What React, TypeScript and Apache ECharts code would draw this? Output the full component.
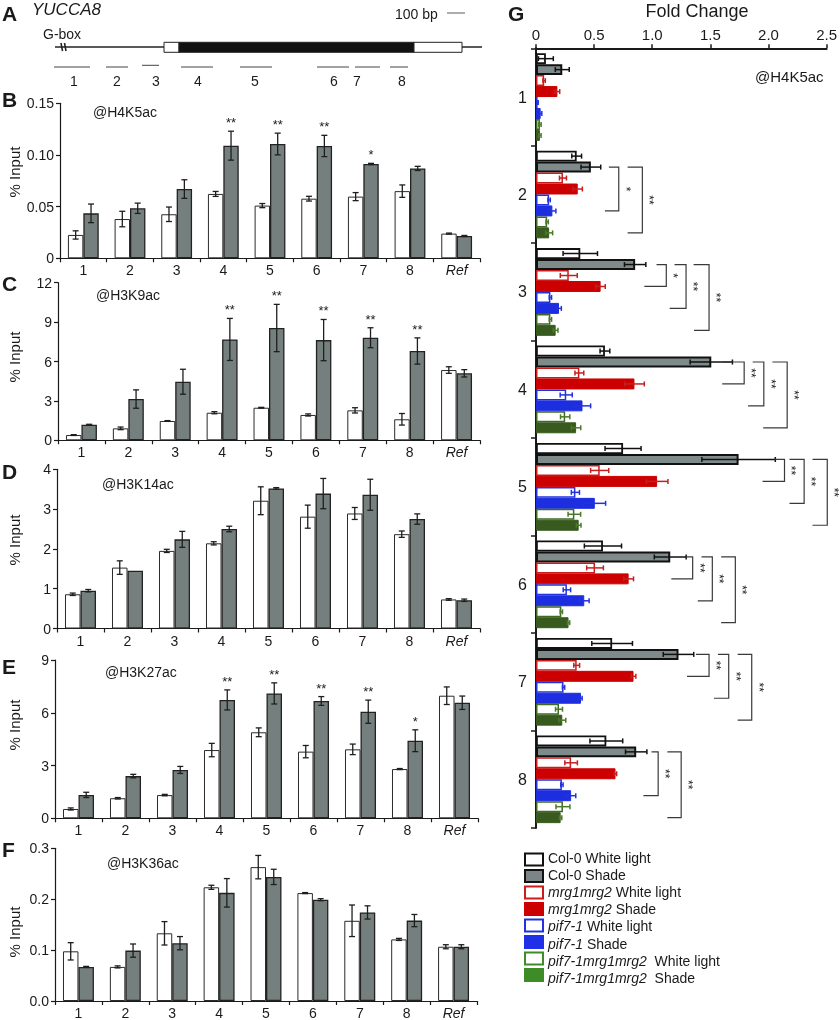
import React, { useEffect, useRef } from "react";
import * as echarts from "echarts";

const FONT = "'Liberation Sans', Arial, Helvetica, sans-serif";
const INK = "#1a1a1a";

// ---------- Panels B-F : % Input ----------
const sites = ["1", "2", "3", "4", "5", "6", "7", "8", "Ref"];

const h4k5WL = [0.0226, 0.038, 0.0426, 0.0623, 0.051, 0.0577, 0.0597, 0.065, 0.0239];
const h4k5WLErr = [0.004, 0.0075, 0.007, 0.0024, 0.002, 0.0023, 0.0039, 0.006, 0.0005];
const h4k5Sh = [0.0435, 0.0484, 0.067, 0.109, 0.1106, 0.1087, 0.0913, 0.087, 0.0216];
const h4k5ShErr = [0.009, 0.005, 0.009, 0.014, 0.0105, 0.0103, 0.0006, 0.002, 0.0005];
const h4k5Stars = ["", "", "", "**", "**", "**", "*", "", ""];

const h3k9WL = [0.4, 0.91, 1.47, 2.1, 2.48, 1.93, 2.28, 1.6, 5.35];
const h3k9WLErr = [0.03, 0.1, 0.03, 0.08, 0.03, 0.08, 0.2, 0.44, 0.25];
const h3k9Sh = [1.19, 3.14, 4.46, 7.68, 8.55, 7.63, 7.81, 6.8, 5.1];
const h3k9ShErr = [0.03, 0.7, 0.95, 1.6, 1.8, 1.57, 0.76, 1.0, 0.28];
const h3k9Stars = ["", "", "", "**", "**", "**", "**", "**", ""];

const h3k14WL = [0.86, 1.53, 1.95, 2.14, 3.21, 2.81, 2.89, 2.37, 0.73];
const h3k14WLErr = [0.03, 0.17, 0.04, 0.04, 0.35, 0.29, 0.15, 0.08, 0.02];
const h3k14Sh = [0.95, 1.45, 2.24, 2.5, 3.52, 3.39, 3.36, 2.75, 0.71];
const h3k14ShErr = [0.03, 0, 0.2, 0.07, 0.02, 0.38, 0.39, 0.13, 0.03];
const h3k14Stars = ["", "", "", "", "", "", "", "", ""];

const h3k27WL = [0.53, 1.14, 1.32, 3.88, 4.89, 3.79, 3.92, 2.8, 6.97];
const h3k27WLErr = [0.06, 0.04, 0.04, 0.38, 0.25, 0.35, 0.3, 0.03, 0.5];
const h3k27Sh = [1.33, 2.4, 2.75, 6.73, 7.1, 6.67, 6.06, 4.41, 6.57];
const h3k27ShErr = [0.15, 0.1, 0.2, 0.57, 0.6, 0.25, 0.66, 0.62, 0.38];
const h3k27Stars = ["", "", "", "**", "**", "**", "**", "*", ""];

const h3k36WL = [0.0976, 0.067, 0.133, 0.2234, 0.263, 0.212, 0.1576, 0.121, 0.1066];
const h3k36WLErr = [0.017, 0.002, 0.023, 0.004, 0.023, 0.001, 0.031, 0.002, 0.004];
const h3k36Sh = [0.067, 0.099, 0.1136, 0.2125, 0.2438, 0.199, 0.174, 0.158, 0.1066];
const h3k36ShErr = [0.001, 0.013, 0.013, 0.028, 0.015, 0.002, 0.013, 0.012, 0.004];
const h3k36Stars = ["", "", "", "", "", "", "", "", ""];

// ---------- Panel G : Fold change ----------
const foldSites = ["1", "2", "3", "4", "5", "6", "7", "8"];
const col0WL = [0.085, 0.35, 0.381, 0.593, 0.749, 0.576, 0.655, 0.605];
const col0WLErr = [0.064, 0.042, 0.148, 0.042, 0.155, 0.16, 0.175, 0.141];
const col0Sh = [0.226, 0.472, 0.853, 1.508, 1.743, 1.155, 1.226, 0.862];
const col0ShErr = [0.06, 0.085, 0.092, 0.182, 0.316, 0.137, 0.131, 0.092];
const mrgWL = [0.07, 0.232, 0.282, 0.373, 0.548, 0.508, 0.35, 0.302];
const mrgWLErr = [0.01, 0.03, 0.073, 0.038, 0.078, 0.072, 0.025, 0.054];
const mrgSh = [0.184, 0.359, 0.556, 0.847, 1.042, 0.797, 0.839, 0.684];
const mrgShErr = [0.02, 0.04, 0.04, 0.085, 0.093, 0.042, 0.02, 0.01];
const pifWL = [0.014, 0.113, 0.124, 0.26, 0.339, 0.266, 0.237, 0.223];
const pifWLErr = [0.005, 0.01, 0.01, 0.052, 0.035, 0.032, 0.01, 0.01];
const pifSh = [0.04, 0.141, 0.198, 0.4, 0.506, 0.415, 0.387, 0.302];
const pifShErr = [0.01, 0.03, 0.02, 0.07, 0.093, 0.042, 0.01, 0.04];
const pmWL = [0.034, 0.096, 0.124, 0.251, 0.33, 0.218, 0.198, 0.232];
const pmWLErr = [0.01, 0.01, 0.01, 0.04, 0.054, 0.01, 0.03, 0.06];
const pmSh = [0.034, 0.113, 0.169, 0.345, 0.367, 0.28, 0.226, 0.212];
const pmShErr = [0.01, 0.03, 0.02, 0.04, 0.02, 0.01, 0.03, 0.01];

// significance brackets (from Col-0 Shade bar to target bar)
const bracketSite = [1, 1, 2, 2, 2, 3, 3, 3, 4, 4, 4, 5, 5, 5, 6, 6, 6, 7, 7];
const bracketTarget = [5, 7, 3, 5, 7, 3, 5, 7, 3, 5, 7, 3, 5, 7, 3, 5, 7, 5, 7];
const bracketX = [0.712, 0.915, 1.121, 1.291, 1.489, 1.791, 1.96, 2.161, 2.138, 2.307, 2.506, 1.348, 1.517, 1.715, 1.489, 1.658, 1.856, 1.051, 1.249];
const bracketTopArm = [0.627, 0.788, 1.037, 1.192, 1.356, 1.602, 1.864, 2.034, 2.054, 2.181, 2.379, 1.277, 1.424, 1.593, 1.376, 1.565, 1.735, 0.994, 1.13];
const bracketBotArm = [0.593, 0.788, 0.932, 1.15, 1.36, 1.602, 1.825, 1.955, 1.949, 2.181, 2.379, 1.164, 1.392, 1.593, 1.299, 1.531, 1.735, 0.924, 1.13];
const bracketStars = ["*", "**", "*", "**", "**", "**", "**", "**", "**", "**", "**", "**", "**", "**", "**", "**", "**", "**", "**"];

// ---------- Panel A : gene diagram ----------
const fragmentLabels = ["1", "2", "3", "4", "5", "6", "7", "8"];
const legendLabels = [
  "Col-0 White light",
  "Col-0 Shade",
  "{i|mrg1mrg2} White light",
  "{i|mrg1mrg2} Shade",
  "{i|pif7-1} White light",
  "{i|pif7-1} Shade",
  "{i|pif7-1mrg1mrg2}  White light",
  "{i|pif7-1mrg1mrg2}  Shade",
];

// ---------- styling / layout ----------
const GRAY = "#75807e";
const gSeriesStyle = [
  { color: "#ffffff", borderColor: "#111111", borderWidth: 1.8 },
  { color: "#7f8a8b", borderColor: "#111111", borderWidth: 2 },
  { color: "#ffffff", borderColor: "#cc1b1b", borderWidth: 1.5 },
  { color: "#cc0000", borderColor: "#cc0000", borderWidth: 1 },
  { color: "#ffffff", borderColor: "#2233dd", borderWidth: 1.5 },
  { color: "#1d2ee0", borderColor: "#1d2ee0", borderWidth: 1 },
  { color: "#ffffff", borderColor: "#3f6a26", borderWidth: 1.5 },
  { color: "#385a1f", borderColor: "#385a1f", borderWidth: 1 },
];
const gErrColor = ["#111", "#111", "#c42020", "#c42020", "#2233dd", "#2233dd", "#4a7a2a", "#4a7a2a"];
const legendSwatch = [
  { fill: "#ffffff", stroke: "#111111" },
  { fill: "#7b8587", stroke: "#111111" },
  { fill: "#ffffff", stroke: "#cc1b1b" },
  { fill: "#cc0000", stroke: "#cc0000" },
  { fill: "#ffffff", stroke: "#2233dd" },
  { fill: "#2030e8", stroke: "#2030e8" },
  { fill: "#ffffff", stroke: "#3e8c28" },
  { fill: "#3e8c28", stroke: "#3e8c28" },
];

const panelLayout = [
  { left: 60, top: 103.3, right: 480, bottom: 258.3, letterY: 99, markX: 93, markY: 112, nameY: 172 },
  { left: 58, top: 282.7, right: 480, bottom: 440.3, letterY: 283, markX: 96, markY: 295, nameY: 357 },
  { left: 57, top: 469.3, right: 480, bottom: 628.5, letterY: 471, markX: 102, markY: 484, nameY: 540 },
  { left: 55, top: 660, right: 478, bottom: 818.3, letterY: 666, markX: 105, markY: 672, nameY: 725 },
  { left: 55, top: 848.3, right: 477, bottom: 1005, letterY: 849, markX: 107, markY: 863, nameY: 932 },
];

const panels = [
  { letter: "B", mark: "@H4K5ac", wl: h4k5WL, wlErr: h4k5WLErr, sh: h4k5Sh, shErr: h4k5ShErr, stars: h4k5Stars, max: 0.15, interval: 0.05, fmt: (v: number) => (v === 0 ? "0" : v.toFixed(2)) },
  { letter: "C", mark: "@H3K9ac", wl: h3k9WL, wlErr: h3k9WLErr, sh: h3k9Sh, shErr: h3k9ShErr, stars: h3k9Stars, max: 12, interval: 3, fmt: (v: number) => String(v) },
  { letter: "D", mark: "@H3K14ac", wl: h3k14WL, wlErr: h3k14WLErr, sh: h3k14Sh, shErr: h3k14ShErr, stars: h3k14Stars, max: 4, interval: 1, fmt: (v: number) => String(v) },
  { letter: "E", mark: "@H3K27ac", wl: h3k27WL, wlErr: h3k27WLErr, sh: h3k27Sh, shErr: h3k27ShErr, stars: h3k27Stars, max: 9, interval: 3, fmt: (v: number) => String(v) },
  { letter: "F", mark: "@H3K36ac", wl: h3k36WL, wlErr: h3k36WLErr, sh: h3k36Sh, shErr: h3k36ShErr, stars: h3k36Stars, max: 0.3, interval: 0.1, fmt: (v: number) => v.toFixed(1) },
];

const G_GRID = { left: 536, top: 48.3, right: 831.7, bottom: 828 };
const CAT_GAP = 0.34;
const G_GAP = 0.1;

function txt(text: string, x: number, y: number, size: number, extra: any = {}) {
  return {
    type: "text",
    x,
    y,
    silent: true,
    style: {
      text,
      fill: INK,
      fontSize: size,
      fontFamily: FONT,
      align: "left",
      verticalAlign: "middle",
      ...extra,
    },
  };
}

function line(x1: number, y1: number, x2: number, y2: number, stroke = INK, w = 1) {
  return { type: "line", silent: true, shape: { x1, y1, x2, y2 }, style: { stroke, lineWidth: w } };
}

function buildOption() {
  const grid: any[] = [];
  const xAxis: any[] = [];
  const yAxis: any[] = [];
  const series: any[] = [];
  const graphic: any[] = [];

  panels.forEach((p, i) => {
    const L = panelLayout[i];
    grid.push({ left: L.left, top: L.top, width: L.right - L.left, height: L.bottom - L.top, containLabel: false });
    xAxis.push({
      type: "category",
      gridIndex: i,
      data: sites,
      boundaryGap: true,
      axisLine: { lineStyle: { color: INK, width: 1.2 } },
      axisTick: { show: true, length: 4, lineStyle: { color: INK, width: 1.2 } },
      axisLabel: {
        interval: 0,
        margin: 5,
        fontSize: 14,
        fontFamily: FONT,
        color: INK,
        formatter: (v: string) => (v === "Ref" ? "{i|Ref}" : v),
        rich: { i: { fontStyle: "italic", fontSize: 14, fontFamily: FONT, color: INK } },
      },
    });
    yAxis.push({
      type: "value",
      gridIndex: i,
      min: 0,
      max: p.max,
      interval: p.interval,
      axisLine: { show: true, lineStyle: { color: INK, width: 1.2 } },
      axisTick: { show: true, length: 4, lineStyle: { color: INK, width: 1.2 } },
      splitLine: { show: false },
      axisLabel: { margin: 6, fontSize: 14, fontFamily: FONT, color: INK, formatter: p.fmt },
    });
    series.push({
      type: "bar",
      xAxisIndex: i,
      yAxisIndex: i,
      data: p.wl,
      barGap: "0%",
      barCategoryGap: `${CAT_GAP * 100}%`,
      itemStyle: { color: "#ffffff", borderColor: "#2a2a2a", borderWidth: 1 },
    });
    series.push({
      type: "bar",
      xAxisIndex: i,
      yAxisIndex: i,
      data: p.sh,
      barGap: "0%",
      barCategoryGap: `${CAT_GAP * 100}%`,
      itemStyle: { color: GRAY, borderColor: "#222222", borderWidth: 1.3 },
    });
    const errData: number[][] = [];
    const errStars: string[] = [];
    p.wl.forEach((v, k) => {
      errData.push([k, v, p.wlErr[k], 0]);
      errStars.push("");
    });
    p.sh.forEach((v, k) => {
      errData.push([k, v, p.shErr[k], 1]);
      errStars.push(p.stars[k]);
    });
    series.push({
      type: "custom",
      xAxisIndex: i,
      yAxisIndex: i,
      data: errData,
      encode: { x: 0, y: 1 },
      z: 5,
      clip: false,
      silent: true,
      itemStyle: { color: INK },
      renderItem: (params: any, api: any) => {
        const idx = api.value(0);
        const v = api.value(1);
        const e = api.value(2);
        const side = api.value(3);
        const band = api.size([1, 0])[0];
        const bw = (band * (1 - CAT_GAP)) / 2;
        const base = api.coord([idx, v]);
        const x = base[0] + (side === 0 ? -bw / 2 : bw / 2);
        const yT = api.coord([idx, v + e])[1];
        const yB = api.coord([idx, Math.max(0, v - e)])[1];
        const cap = 3;
        const st = { stroke: "#1e1e1e", lineWidth: 1.3 };
        const children: any[] = [];
        if (e > 0) {
          children.push({ type: "line", shape: { x1: x, y1: yT, x2: x, y2: yB }, style: st });
          children.push({ type: "line", shape: { x1: x - cap, y1: yT, x2: x + cap, y2: yT }, style: st });
          children.push({ type: "line", shape: { x1: x - cap, y1: yB, x2: x + cap, y2: yB }, style: st });
        }
        const s = errStars[params.dataIndex];
        if (s) {
          children.push({
            type: "text",
            x,
            y: yT - 2,
            style: { text: s, fill: INK, fontSize: 13, fontFamily: FONT, align: "center", verticalAlign: "bottom" },
          });
        }
        return { type: "group", children };
      },
    });

    graphic.push(txt(p.letter, 2, L.letterY, 21, { fontWeight: "bold" }));
    graphic.push(txt(p.mark, L.markX, L.markY, 14));
    graphic.push({
      ...txt("% Input", 14, L.nameY, 15, { align: "center" }),
      rotation: Math.PI / 2,
    });
  });

  // ---------- Panel G ----------
  const gi = panels.length;
  grid.push({
    left: G_GRID.left,
    top: G_GRID.top,
    width: G_GRID.right - G_GRID.left,
    height: G_GRID.bottom - G_GRID.top,
    containLabel: false,
  });
  xAxis.push({
    type: "value",
    gridIndex: gi,
    position: "top",
    min: 0,
    max: 2.5,
    interval: 0.5,
    axisLine: { show: true, lineStyle: { color: INK, width: 2 } },
    axisTick: { show: true, length: 4, lineStyle: { color: INK, width: 1.5 } },
    splitLine: { show: false },
    axisLabel: {
      margin: 6,
      fontSize: 15,
      fontFamily: FONT,
      color: INK,
      formatter: (v: number) => (v === 0 ? "0" : v.toFixed(1)),
    },
  });
  yAxis.push({
    type: "category",
    gridIndex: gi,
    inverse: true,
    data: foldSites,
    boundaryGap: true,
    axisLine: { show: true, lineStyle: { color: INK, width: 2 } },
    axisTick: { show: true, length: 5, lineStyle: { color: INK, width: 1.5 } },
    axisLabel: { interval: 0, margin: 9, fontSize: 16, fontFamily: FONT, color: INK },
  });
  const gVals = [col0WL, col0Sh, mrgWL, mrgSh, pifWL, pifSh, pmWL, pmSh];
  const gErrs = [col0WLErr, col0ShErr, mrgWLErr, mrgShErr, pifWLErr, pifShErr, pmWLErr, pmShErr];
  gVals.forEach((vals, s) => {
    series.push({
      type: "bar",
      xAxisIndex: gi,
      yAxisIndex: gi,
      data: vals,
      barGap: "0%",
      barCategoryGap: `${G_GAP * 100}%`,
      itemStyle: gSeriesStyle[s],
    });
  });
  const gErrData: number[][] = [];
  gVals.forEach((vals, s) => vals.forEach((v, k) => gErrData.push([k, v, gErrs[s][k], s])));
  series.push({
    type: "custom",
    xAxisIndex: gi,
    yAxisIndex: gi,
    data: gErrData,
    encode: { x: 1, y: 0 },
    z: 5,
    clip: false,
    silent: true,
    itemStyle: { color: INK },
    renderItem: (params: any, api: any) => {
      const k = api.value(0);
      const v = api.value(1);
      const e = api.value(2);
      const s = api.value(3);
      const band = api.size([0, 1])[1];
      const total = band * (1 - G_GAP);
      const bw = total / 8;
      const c = api.coord([v, k]);
      const y = c[1] - total / 2 + bw * (s + 0.5);
      const xL = api.coord([Math.max(0, v - e), k])[0];
      const xR = api.coord([v + e, k])[0];
      const st = { stroke: gErrColor[s], lineWidth: 1.5 };
      const cap = 2.5;
      return {
        type: "group",
        children: [
          { type: "line", shape: { x1: xL, y1: y, x2: xR, y2: y }, style: st },
          { type: "line", shape: { x1: xL, y1: y - cap, x2: xL, y2: y + cap }, style: st },
          { type: "line", shape: { x1: xR, y1: y - cap, x2: xR, y2: y + cap }, style: st },
        ],
      };
    },
  });
  const brData = bracketSite.map((site, b) => [site, bracketTarget[b], bracketX[b], bracketTopArm[b], bracketBotArm[b]]);
  series.push({
    type: "custom",
    xAxisIndex: gi,
    yAxisIndex: gi,
    data: brData,
    encode: { x: 2, y: 0 },
    z: 6,
    clip: false,
    silent: true,
    itemStyle: { color: INK },
    renderItem: (params: any, api: any) => {
      const site = api.value(0);
      const tgt = api.value(1);
      const band = api.size([0, 1])[1];
      const total = band * (1 - G_GAP);
      const bw = total / 8;
      const cy = api.coord([0, site])[1];
      const yTop = cy - total / 2 + bw * 1.5;
      const yBot = cy - total / 2 + bw * (tgt + 0.5);
      const xV = api.coord([api.value(2), site])[0];
      const xT = api.coord([api.value(3), site])[0];
      const xB = api.coord([api.value(4), site])[0];
      return {
        type: "group",
        children: [
          {
            type: "polyline",
            shape: { points: [[xT, yTop], [xV, yTop], [xV, yBot], [xB, yBot]] },
            style: { stroke: "#3a3a3a", lineWidth: 1.2, fill: "none" },
          },
          {
            type: "text",
            x: xV + 1,
            y: (yTop + yBot) / 2,
            rotation: -Math.PI / 2,
            style: {
              text: bracketStars[params.dataIndex],
              fill: INK,
              fontSize: 12,
              fontFamily: FONT,
              align: "center",
              verticalAlign: "bottom",
            },
          },
        ],
      };
    },
  });

  graphic.push(txt("G", 508, 13, 21, { fontWeight: "bold" }));
  graphic.push(txt("Fold Change", 697, 11, 18, { align: "center" }));
  graphic.push(txt("@H4K5ac", 755, 76, 15));

  // legend
  legendLabels.forEach((lab, k) => {
    const sw = legendSwatch[k];
    graphic.push({
      type: "rect",
      silent: true,
      shape: { x: 525, y: 853.5 + k * 16.5, width: 18, height: 12 },
      style: { fill: sw.fill, stroke: sw.stroke, lineWidth: 2 },
    });
    graphic.push({
      type: "text",
      silent: true,
      x: 548,
      y: 858 + k * 17.1,
      style: {
        text: lab,
        fill: INK,
        fontSize: 14,
        fontFamily: FONT,
        verticalAlign: "middle",
        rich: { i: { fontStyle: "italic", fontSize: 14, fontFamily: FONT, fill: INK } },
      },
    });
  });

  // ---------- Panel A ----------
  graphic.push(txt("A", 2, 13, 21, { fontWeight: "bold" }));
  graphic.push(txt("YUCCA8", 32, 9, 17, { fontStyle: "italic" }));
  graphic.push(txt("100 bp", 395, 14, 14));
  graphic.push(line(447, 13, 465, 13, "#777", 1.2));
  graphic.push(txt("G-box", 43, 34, 14));
  graphic.push(line(55, 47, 164, 47, "#222", 1.5));
  graphic.push(line(462, 47, 482, 47, "#222", 1.5));
  graphic.push(line(61, 43, 62.5, 51, "#222", 1.6));
  graphic.push(line(64.5, 43, 66, 51, "#222", 1.6));
  graphic.push({
    type: "rect",
    silent: true,
    shape: { x: 164, y: 42.3, width: 15, height: 10 },
    style: { fill: "#fff", stroke: "#222", lineWidth: 1 },
  });
  graphic.push({
    type: "rect",
    silent: true,
    shape: { x: 179, y: 42.3, width: 235, height: 10 },
    style: { fill: "#111", stroke: "#222", lineWidth: 1 },
  });
  graphic.push({
    type: "rect",
    silent: true,
    shape: { x: 414, y: 42.3, width: 48, height: 10 },
    style: { fill: "#fff", stroke: "#222", lineWidth: 1 },
  });
  const fragX = [
    [54, 90],
    [106, 128],
    [142, 159],
    [181, 213],
    [240, 272],
    [317, 349],
    [355, 380],
    [390, 408],
  ];
  const fragLabelX = [74, 117, 156, 198, 255, 334, 357, 402];
  fragmentLabels.forEach((lab, k) => {
    const y = k === 2 ? 65.3 : 67;
    graphic.push(line(fragX[k][0], y, fragX[k][1], y, "#444", 1));
    graphic.push(txt(lab, fragLabelX[k], 80.5, 14, { align: "center" }));
  });

  return {
    animation: false,
    backgroundColor: "#ffffff",
    textStyle: { fontFamily: FONT },
    grid,
    xAxis,
    yAxis,
    series,
    graphic,
  };
}

export default function App() {
  const ref = useRef<HTMLDivElement>(null);
  useEffect(() => {
    const chart = echarts.init(ref.current as HTMLDivElement, null, { renderer: "svg" });
    chart.setOption(buildOption() as any);
    return () => chart.dispose();
  }, []);
  return (
    <div
      ref={ref}
      style={{ position: "absolute", left: 0, top: 0, width: 840, height: 1020, willChange: "transform" }}
    />
  );
}
